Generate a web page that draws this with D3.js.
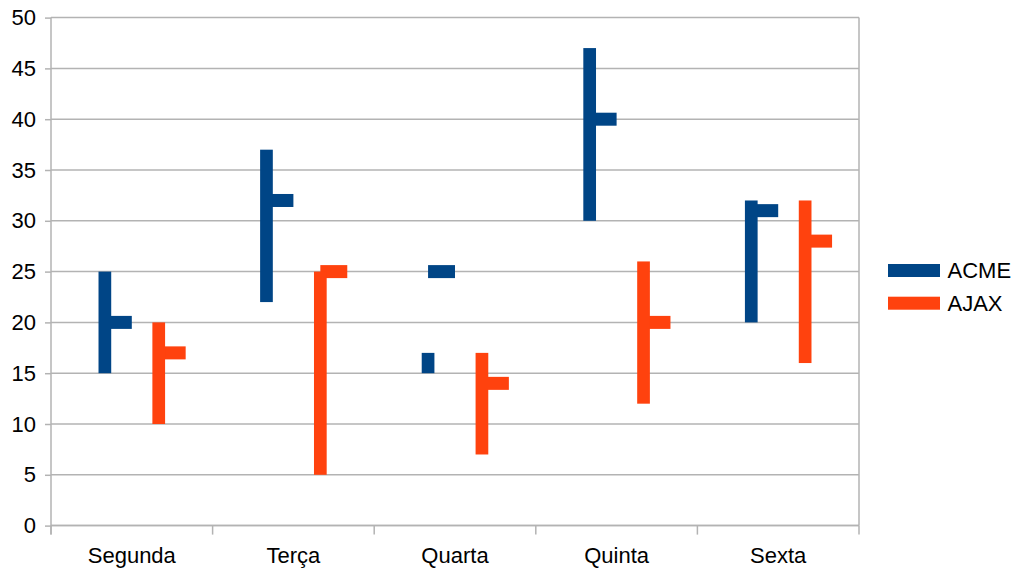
<!DOCTYPE html>
<html>
<head>
<meta charset="utf-8">
<script src="https://cdn.jsdelivr.net/npm/d3@7/dist/d3.min.js"></script>
<style>
  html, body { margin: 0; padding: 0; background: #fff; }
  svg { display: block; font-family: "Liberation Sans", Arial, sans-serif; }
</style>
</head>
<body>
<script>
const categories = ["Segunda", "Terça", "Quarta", "Quinta", "Sexta"];
const seriesNames = ["ACME", "AJAX"];
const seriesColors = ["#004586", "#ff420e"];
const acmeHigh  = [25, 37, 17, 47, 32];
const acmeLow   = [15, 22, 15, 30, 20];
const acmeClose = [20, 32, 25, 40, 31];
const ajaxHigh  = [20, 25, 17, 26, 32];
const ajaxLow   = [10,  5,  7, 12, 16];
const ajaxClose = [17, 25, 14, 20, 28];
const yTicks = [0, 5, 10, 15, 20, 25, 30, 35, 40, 45, 50];

const W = 1017, H = 568;
const pLeft = 51, pRight = 859, pTop = 17.6, pBottom = 525.6;

const svg = d3.select("body").append("svg").attr("width", W).attr("height", H);

const x = d3.scaleBand().domain(categories).range([pLeft, pRight]).padding(0);
const xs = d3.scalePoint().domain(seriesNames).range([0, x.bandwidth()]).padding(1);
const y = d3.scaleLinear().domain([0, 50]).range([pBottom, pTop]);

const grid = "#b3b3b3";

// horizontal gridlines
svg.append("g").selectAll("line").data(yTicks).join("line")
  .attr("x1", pLeft).attr("x2", pRight)
  .attr("y1", d => y(d)).attr("y2", d => y(d))
  .attr("stroke", grid).attr("stroke-width", 1.5);

// right border of wall
svg.append("line").attr("x1", pRight).attr("x2", pRight).attr("y1", pTop).attr("y2", pBottom)
  .attr("stroke", grid).attr("stroke-width", 1.5);

// y axis
const yAxis = d3.axisLeft(y).tickValues(yTicks).tickSize(6).tickPadding(9).tickFormat(d3.format("d"));
const gy = svg.append("g").attr("transform", `translate(${pLeft},0)`).call(yAxis);
gy.select(".domain").attr("stroke", grid).attr("stroke-width", 1.5).attr("d", `M-0,${pTop}V${pBottom + 9}`);
gy.selectAll(".tick line").attr("stroke", grid).attr("stroke-width", 1.5);
gy.selectAll(".tick text").attr("fill", "#000").style("font-size", "22px")
  .style("font-family", '"Liberation Sans", Arial, sans-serif');

// x axis
const gx = svg.append("g").attr("transform", `translate(0,${pBottom})`);
gx.append("line").attr("x1", pLeft).attr("x2", pRight).attr("y1", 0).attr("y2", 0)
  .attr("stroke", grid).attr("stroke-width", 1.5);
const bounds = categories.map(c => x(c)).concat([pRight]);
gx.selectAll("line.tk").data(bounds).join("line").attr("class", "tk")
  .attr("x1", d => d).attr("x2", d => d).attr("y1", 0).attr("y2", 9)
  .attr("stroke", grid).attr("stroke-width", 1.5);
gx.selectAll("text").data(categories).join("text")
  .attr("x", d => x(d) + x.bandwidth() / 2).attr("y", 37.5)
  .attr("text-anchor", "middle").attr("fill", "#000").style("font-size", "22px")
  .text(d => d);

// data
const series = [
  { name: "ACME", color: seriesColors[0], high: acmeHigh, low: acmeLow, close: acmeClose },
  { name: "AJAX", color: seriesColors[1], high: ajaxHigh, low: ajaxLow, close: ajaxClose }
];
const lw = 12.7, th = 13;
series.forEach(s => {
  const g = svg.append("g");
  categories.forEach((c, i) => {
    const cx = x(c) + xs(s.name);
    g.append("rect")
      .attr("x", cx).attr("y", y(s.close[i]) - th / 2)
      .attr("width", x.bandwidth() / 6).attr("height", th)
      .attr("fill", s.color);
    g.append("rect")
      .attr("x", cx - lw / 2).attr("y", y(s.high[i]))
      .attr("width", lw).attr("height", y(s.low[i]) - y(s.high[i]))
      .attr("fill", s.color);
  });
});

// legend
const lg = svg.append("g");
series.forEach((s, i) => {
  const yy = 264 + i * 32.7;
  lg.append("rect").attr("x", 888).attr("y", yy).attr("width", 52).attr("height", 13).attr("fill", s.color);
  lg.append("text").attr("x", 947.5).attr("y", yy + 14).attr("fill", "#000")
    .style("font-size", "22px").text(s.name);
});
</script>
</body>
</html>
